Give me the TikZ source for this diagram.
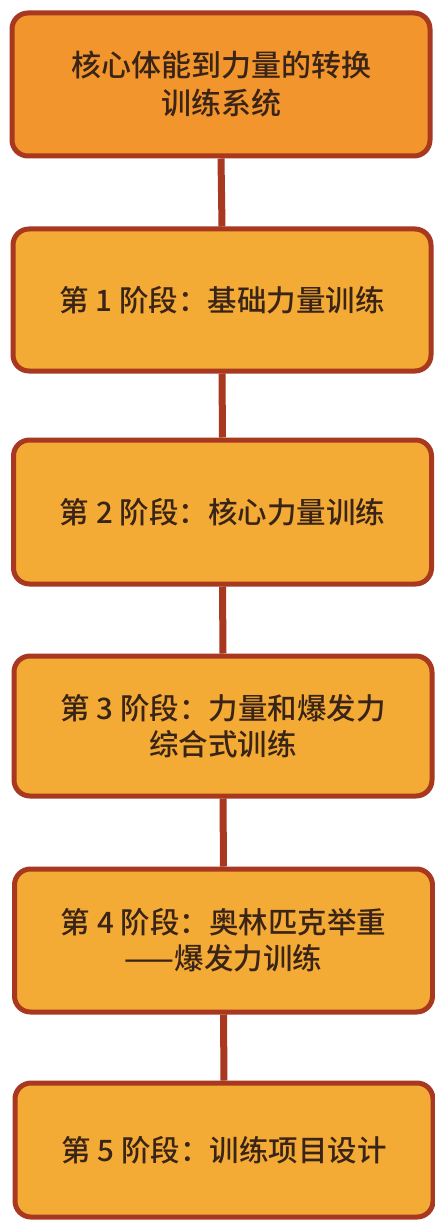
\documentclass[tikz,border=0pt]{standalone}
\usepackage{fontspec}
\newfontfamily\cjk{Noto Sans CJK SC}[UprightFont=* Medium, BoldFont=* Bold]
\definecolor{boxfillA}{HTML}{F1952C}
\definecolor{boxfillB}{HTML}{F4AB35}
\definecolor{edgecol}{HTML}{A8381F}
\definecolor{txtcol}{HTML}{3A2418}
\tikzset{
  stagebox/.style={draw=edgecol, line width=5pt, rounded corners=16pt, fill=boxfillB,
    minimum width=418pt, text=txtcol, align=center, font=\cjk\fontsize{29.5pt}{36pt}\selectfont, inner sep=0pt},
  link/.style={draw=edgecol, line width=7pt}
}
\begin{document}
\begin{tikzpicture}[x=1pt,y=1pt]
\useasboundingbox[fill=white] (0,0) rectangle (434,-1222);
\node[stagebox, fill=boxfillA, minimum height=143pt, font=\cjk\fontsize{30pt}{38pt}\selectfont] (b1) at (221,-84.5) {核心体能到力量的转换\\训练系统};
\node[stagebox, minimum height=142pt] (b2) at (222,-300) {第 1 阶段：基础力量训练};
\node[stagebox, minimum height=144pt] (b3) at (222.5,-512) {第 2 阶段：核心力量训练};
\node[stagebox, minimum height=140pt] (b4) at (223,-726) {第 3 阶段：力量和爆发力\\综合式训练};
\node[stagebox, minimum height=143pt] (b5) at (223.5,-940.5) {第 4 阶段：奥林匹克举重\\——爆发力训练};
\node[stagebox, minimum height=134pt] (b6) at (224,-1150) {第 5 阶段：训练项目设计};
\draw[link] (b1.south) -- (b2.north);
\draw[link] (b2.south) -- (b3.north);
\draw[link] (b3.south) -- (b4.north);
\draw[link] (b4.south) -- (b5.north);
\draw[link] (b5.south) -- (b6.north);
\end{tikzpicture}
\end{document}
